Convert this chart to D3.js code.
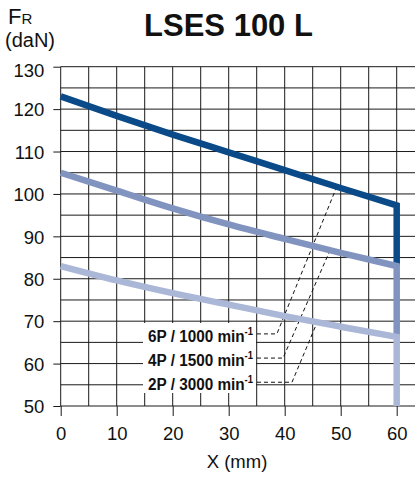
<!DOCTYPE html>
<html><head><meta charset="utf-8">
<script src="https://cdn.jsdelivr.net/npm/d3@7"></script>
<style>body{margin:0;background:#fff} text{font-family:"Liberation Sans",Arial,sans-serif;fill:#111}</style>
</head><body><svg id="c" width="415" height="477"></svg>
<script>
// ---- data ----
const xValues = [0, 10, 20, 30, 40, 50, 60];
const series6P = [123, 118.4, 114, 109.8, 105.6, 101.4, 97.3];
const series4P = [105, 100.8, 96.6, 92.8, 89.4, 86.1, 83];
const series2P = [83, 79.6, 76.6, 73.9, 71.2, 68.7, 66.3];
const seriesLabels = ["6P / 1000 min", "4P / 1500 min", "2P / 3000 min"];
const seriesColors = ["#0a4a88", "#8194bf", "#abb7d7"];
const leaderY = [67, 61.3, 55.6];
const leaderStartX = [35.05, 35.05, 35.05];
const leaderCornerX = [38.6, 39.7, 41.3];
const leaderEndX = [49.3, 48.1, 45.8];
const xTicks = [0, 10, 20, 30, 40, 50, 60];
const yTicks = [50, 60, 70, 80, 90, 100, 110, 120, 130];
const xGrid = d3.range(0, 61, 5);
const yGrid = d3.range(50, 131, 5);

const svg = d3.select("#c");
const x = d3.scaleLinear().domain([0, 60]).range([60.7, 396.7]);
const y = d3.scaleLinear().domain([50, 130]).range([406, 66.7]);
const rightEdge = 415;

// grid
const g = svg.append("g").attr("stroke", "#1a1a1a").attr("stroke-width", 1);
g.selectAll(".v").data(xGrid).join("line")
  .attr("x1", d => x(d)).attr("x2", d => x(d)).attr("y1", y(130)).attr("y2", y(50));
g.selectAll(".h").data(yGrid).join("line")
  .attr("x1", x(0)).attr("x2", rightEdge).attr("y1", d => y(d)).attr("y2", d => y(d));

// axes
const ya = svg.append("g").attr("transform", `translate(${x(0)},0)`)
  .call(d3.axisLeft(y).tickValues(yTicks).tickSize(7.4).tickPadding(9).tickFormat(d3.format("d")));
ya.select(".domain").remove();
ya.selectAll("line").attr("stroke", "#1a1a1a");
ya.selectAll("text").attr("font-size", 18.5).attr("dy", "0.36em")
  .attr("font-family", '"Liberation Sans",Arial,sans-serif').attr("fill", "#111");
ya.selectAll(".tick").filter(d => d === 130).select("text").attr("dy", "0.52em");

const xa = svg.append("g").attr("transform", `translate(0,${y(50)})`)
  .call(d3.axisBottom(x).tickValues(xTicks).tickSize(10).tickPadding(11).tickFormat(d3.format("d")));
xa.select(".domain").remove();
xa.selectAll("line").attr("stroke", "#1a1a1a");
xa.selectAll("text").attr("font-size", 18.5)
  .attr("font-family", '"Liberation Sans",Arial,sans-serif').attr("fill", "#111");

// legend box (white background)
svg.append("rect").attr("x", 143).attr("y", 323).attr("width", 113).attr("height", 70).attr("fill", "#fff");

// leader lines
const allSeries = [series6P, series4P, series2P];
const interp = (s, xv) => {
  const i = Math.min(5, Math.floor(xv / 10));
  const t = (xv - xValues[i]) / 10;
  return s[i] + (s[i + 1] - s[i]) * t;
};
seriesLabels.forEach((lab, i) => {
  const pts = [[leaderStartX[i], leaderY[i]], [leaderCornerX[i], leaderY[i]],
               [leaderEndX[i], interp(allSeries[i], leaderEndX[i])]];
  svg.append("path")
    .attr("d", d3.line().x(d => x(d[0])).y(d => y(d[1]))(pts))
    .attr("fill", "none").attr("stroke", "#111").attr("stroke-width", 1)
    .attr("stroke-dasharray", "4,3");
  const t = svg.append("text")
    .attr("transform", `translate(253,${y(leaderY[i]) + 7.8}) scale(0.9,1)`)
    .attr("text-anchor", "end").attr("font-size", 17).attr("font-weight", "bold")
    .text(lab);
  t.append("tspan").attr("font-size", 10.5).attr("dy", -7).text("-1");
});

// curves
const nextEnd = [series4P[6], series2P[6], 50];
allSeries.forEach((s, i) => {
  const pts = xValues.map((xv, k) => [x(xv), y(s[k])]);
  const d = d3.line().curve(d3.curveMonotoneX)(pts) + `L${x(60)},${y(nextEnd[i])}`;
  svg.append("path").attr("d", d).attr("fill", "none")
    .attr("stroke", seriesColors[i]).attr("stroke-width", 6.5)
    .attr("stroke-linejoin", "miter");
});

// titles
svg.append("text").attr("x", 228.5).attr("y", 36).attr("text-anchor", "middle")
  .attr("font-size", 31).attr("font-weight", "bold").text("LSES 100 L");
const fr = svg.append("text").attr("x", 8).attr("y", 24).attr("font-size", 22);
fr.append("tspan").text("F");
fr.append("tspan").attr("font-size", 15).text("R");
svg.append("text").attr("x", 5).attr("y", 47).attr("font-size", 20).text("(daN)");
svg.append("text").attr("x", 237).attr("y", 468).attr("text-anchor", "middle")
  .attr("font-size", 18.5).text("X (mm)");
</script></body></html>
